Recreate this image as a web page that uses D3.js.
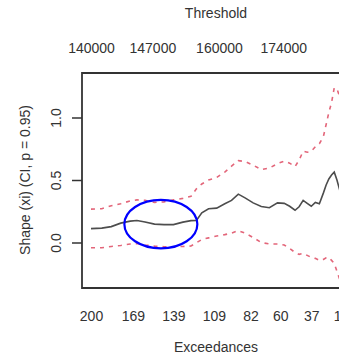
<!DOCTYPE html>
<html>
<head>
<meta charset="utf-8">
<script src="https://cdn.jsdelivr.net/npm/d3@7"></script>
<style>
  body { margin: 0; background: #fff; }
  text { font-family: "Liberation Sans", Arial, sans-serif; fill: #333; }
</style>
</head>
<body>
<div id="chart"></div>
<script>
// number of exceedances used for each fit (x axis, decreasing)
var exceedances = [200,192,185,178,171,166,160,153,146,139,132,126,122,118,113,107,101,96,91,86,80,74,68,62,57,53,49,46,43,40,37,34,31,28,26,24,22,20,18,16,15];
// estimated shape (xi)
var shapeEst = [0.111,0.115,0.127,0.155,0.171,0.176,0.164,0.147,0.143,0.143,0.163,0.175,0.177,0.238,0.270,0.275,0.310,0.337,0.387,0.357,0.317,0.288,0.278,0.317,0.313,0.290,0.258,0.286,0.337,0.313,0.290,0.321,0.310,0.397,0.460,0.508,0.540,0.563,0.500,0.421,0.38];
// 95% confidence bounds
var upperCI = [0.267,0.270,0.294,0.310,0.333,0.341,0.337,0.321,0.325,0.341,0.353,0.369,0.429,0.468,0.500,0.520,0.563,0.611,0.655,0.647,0.619,0.583,0.595,0.631,0.651,0.635,0.607,0.659,0.730,0.722,0.730,0.766,0.790,0.849,0.944,1.040,1.119,1.238,1.230,1.167,1.13];
var lowerCI = [-0.042,-0.042,-0.032,-0.024,-0.012,-0.008,-0.020,-0.029,-0.034,-0.034,-0.032,-0.028,-0.002,0.024,0.037,0.052,0.063,0.075,0.095,0.075,0.040,0.000,-0.012,-0.012,-0.020,-0.048,-0.079,-0.095,-0.087,-0.103,-0.119,-0.127,-0.143,-0.135,-0.123,-0.119,-0.143,-0.167,-0.230,-0.294,-0.325];

// axis ticks
var bottomTicks = [200,169,139,109,82,60,37,15];
var topTickAt = [200,154.6,105.3,57.7];
var topTickLabels = ["140000","147000","160000","174000"];
var yTicks = [0, 0.5, 1.0];

// highlighted region (exceedances, shape)
var highlight = { ex: 148.3, xi: 0.147, halfEx: 27, halfXi: 0.194 };

var svgWidth = 339;
var svgHeight = 354;

var box = { left: 82, top: 73, bottom: 288, right: 350 };

var svg = d3.select("#chart")
  .append("svg")
  .attr("width", svgWidth)
  .attr("height", svgHeight);

var x = d3.scaleLinear().domain([200, 15]).range([91, 341]);
var y = d3.scaleLinear().domain([0, 1]).range([242.5, 117.5]);

// Lines
// ==============================
function makeLine(vals) {
  return d3.line()
    .x(function(d, i) { return x(exceedances[i]); })
    .y(function(d) { return y(d); })(vals);
}

svg.append("path")
  .attr("d", makeLine(upperCI))
  .attr("fill", "none")
  .attr("stroke", "#e3667a")
  .attr("stroke-width", 1.6)
  .attr("stroke-dasharray", "4,5");

svg.append("path")
  .attr("d", makeLine(lowerCI))
  .attr("fill", "none")
  .attr("stroke", "#e3667a")
  .attr("stroke-width", 1.6)
  .attr("stroke-dasharray", "4,5");

svg.append("path")
  .attr("d", makeLine(shapeEst))
  .attr("fill", "none")
  .attr("stroke", "#4d4d4d")
  .attr("stroke-width", 1.6);

// Plot box
svg.append("path")
  .attr("d", `M${box.right},${box.top}H${box.left}V${box.bottom}H${box.right}`)
  .attr("fill", "none")
  .attr("stroke", "#333")
  .attr("stroke-width", 1.8);

// Axes
// ==============================
var leftAxis = d3.axisLeft(y)
  .tickValues(yTicks)
  .tickFormat(d3.format(".1f"))
  .tickSize(10);

var gy = svg.append("g")
  .attr("transform", `translate(${box.left}, 0)`)
  .call(leftAxis);
gy.select(".domain").remove();
gy.selectAll("line").attr("stroke", "#333").attr("stroke-width", 1.5);
gy.selectAll("text")
  .attr("x", null).attr("dy", null)
  .attr("transform", "translate(-21,0) rotate(-90)")
  .attr("text-anchor", "middle")
  .attr("font-size", 14)
  .attr("fill", "#333");

var bottomAxis = d3.axisBottom(x)
  .tickValues(bottomTicks)
  .tickSize(0);
var gb = svg.append("g")
  .attr("transform", `translate(0, ${box.bottom})`)
  .call(bottomAxis);
gb.select(".domain").remove();
gb.selectAll("text")
  .attr("y", 32.5).attr("dy", null)
  .attr("font-size", 14)
  .attr("fill", "#333");

var topAxis = d3.axisTop(x)
  .tickValues(topTickAt)
  .tickFormat(function(d, i) { return topTickLabels[i]; })
  .tickSize(0);
var gt = svg.append("g")
  .attr("transform", `translate(0, ${box.top})`)
  .call(topAxis);
gt.select(".domain").remove();
gt.selectAll("text")
  .attr("y", -20).attr("dy", null)
  .attr("font-size", 14)
  .attr("fill", "#333");

// Axis titles
svg.append("text")
  .attr("x", 216).attr("y", 18)
  .attr("text-anchor", "middle")
  .attr("font-size", 14)
  .text("Threshold");

svg.append("text")
  .attr("x", 216).attr("y", 352)
  .attr("text-anchor", "middle")
  .attr("font-size", 14)
  .text("Exceedances");

svg.append("text")
  .attr("transform", "translate(30, 180) rotate(-90)")
  .attr("text-anchor", "middle")
  .attr("font-size", 14)
  .text("Shape (xi) (CI, p = 0.95)");

// Highlight ellipse
svg.append("ellipse")
  .attr("cx", x(highlight.ex))
  .attr("cy", y(highlight.xi))
  .attr("rx", Math.abs(x(highlight.ex - highlight.halfEx) - x(highlight.ex)))
  .attr("ry", Math.abs(y(highlight.xi + highlight.halfXi) - y(highlight.xi)))
  .attr("fill", "none")
  .attr("stroke", "#0000ff")
  .attr("stroke-width", 2.2);
</script>
</body>
</html>
